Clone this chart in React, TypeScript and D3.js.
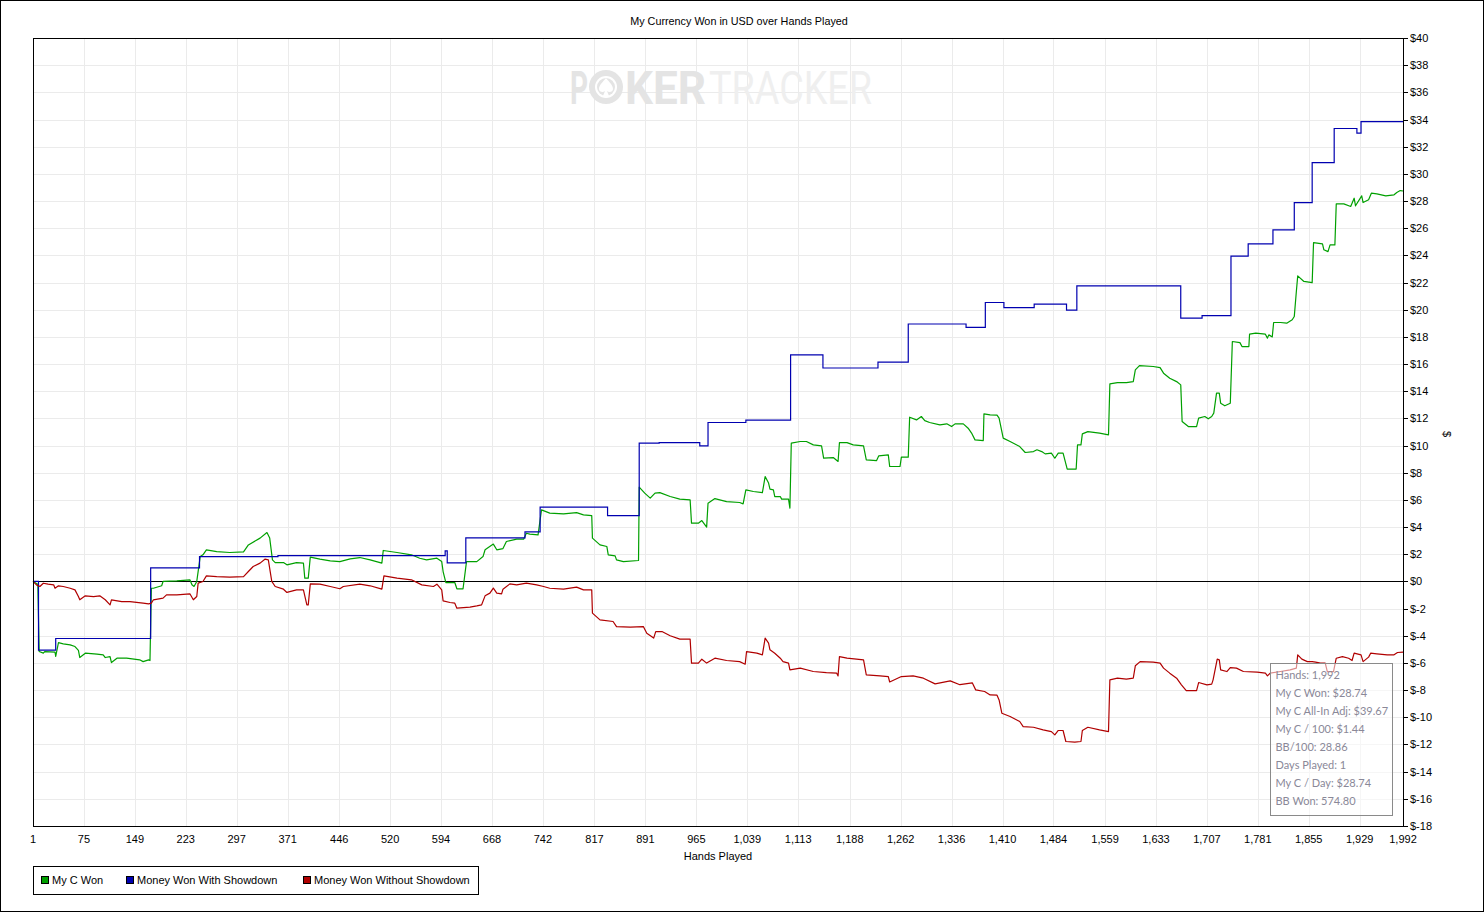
import React from "react";
import * as d3 from "d3";

const xTicks = [1, 75, 149, 223, 297, 371, 446, 520, 594, 668, 742, 817, 891, 965, 1039, 1113, 1188, 1262, 1336, 1410, 1484, 1559, 1633, 1707, 1781, 1855, 1929, 1992];
const yTicks = [-18, -16, -14, -12, -10, -8, -6, -4, -2, 0, 2, 4, 6, 8, 10, 12, 14, 16, 18, 20, 22, 24, 26, 28, 30, 32, 34, 36, 38, 40];

const seriesNames = ["My C Won", "Money Won With Showdown", "Money Won Without Showdown"];
const seriesColors = ["#00a000", "#0000b0", "#b00000"];

// [hand, dollars]
const myCWon: [number, number][] = [
  [1,0],[8,-0.2],[10,-5.16],[16,-5.28],[18,-5.16],[33,-5.2],[34,-5.52],[38,-4.5],[45,-4.59],[55,-4.67],[62,-4.79],[67,-5.08],[69,-5.6],[77,-5.28],[94,-5.35],[103,-5.4],[106,-5.6],[113,-5.53],[115,-5.97],[123,-5.65],[137,-5.65],[156,-5.77],[161,-5.9],[169,-5.77],[171,-5.82],[173,-0.5],[176,-0.5],[188,-0.32],[190,0],[210,0.04],[229,0.12],[232,-0.25],[235,-0.37],[239,0],[244,1.83],[248,1.96],[253,2.33],[268,2.2],[287,2.13],[307,2.18],[314,2.69],[331,3.19],[341,3.6],[345,3.19],[349,1.59],[353,1.39],[365,1.39],[370,1.22],[384,1.39],[394,1.35],[396,0.24],[401,0.24],[404,1.79],[418,1.64],[433,1.52],[447,1.46],[462,1.66],[476,1.76],[491,1.59],[508,1.35],[510,2.28],[530,2.13],[551,1.96],[563,1.71],[573,1.59],[588,1.71],[595,1.46],[597,0.73],[601,-0.08],[614,-0.08],[617,-0.54],[626,-0.54],[631,1.46],[646,1.46],[655,1.83],[658,2.33],[670,2.75],[675,2.33],[684,2.42],[689,2.94],[704,3.11],[714,3.11],[718,3.55],[723,3.48],[735,3.43],[740,5.27],[752,5.03],[772,4.98],[791,5.07],[801,4.9],[813,4.85],[814,3.19],[825,2.69],[835,2.57],[837,1.96],[847,1.88],[849,1.59],[859,1.46],[881,1.54],[882,6.94],[890,6.5],[898,6.13],[905,6.5],[912,6.54],[927,6.25],[941,6.06],[956,6.0],[958,4.29],[968,4.29],[973,4.48],[980,4.0],[982,5.76],[992,6.1],[1009,5.88],[1028,5.81],[1033,5.71],[1037,6.74],[1048,6.62],[1061,6.54],[1065,7.72],[1070,7.24],[1072,6.79],[1077,6.74],[1079,6.25],[1087,6.25],[1089,6.06],[1099,6.06],[1101,5.4],[1103,10.18],[1116,10.3],[1125,10.3],[1135,10.05],[1147,9.98],[1150,9.07],[1164,9.12],[1171,8.83],[1173,10.22],[1184,10.22],[1193,10.05],[1208,9.98],[1212,8.95],[1227,8.9],[1230,9.24],[1244,9.32],[1246,8.46],[1261,8.46],[1263,9.15],[1273,9.15],[1275,12.09],[1285,11.89],[1292,12.14],[1297,11.84],[1304,11.7],[1319,11.53],[1329,11.6],[1336,11.4],[1341,11.6],[1353,11.6],[1360,11.28],[1365,10.92],[1370,10.42],[1382,10.37],[1383,12.34],[1392,12.26],[1402,12.24],[1405,12.02],[1411,10.55],[1421,10.3],[1435,9.93],[1443,9.49],[1455,9.56],[1460,9.69],[1467,9.56],[1472,9.39],[1481,9.44],[1486,9.07],[1491,9.44],[1498,9.44],[1504,8.27],[1517,8.27],[1519,10.05],[1524,10.05],[1526,10.86],[1534,11.03],[1551,10.92],[1564,10.79],[1566,14.54],[1577,14.64],[1590,14.64],[1600,14.71],[1603,15.57],[1609,15.89],[1629,15.82],[1639,15.74],[1644,15.33],[1653,14.96],[1663,14.71],[1669,14.47],[1671,11.77],[1680,11.4],[1692,11.4],[1695,12.02],[1704,12.14],[1709,11.97],[1714,12.14],[1717,12.39],[1721,13.86],[1725,13.86],[1727,13.12],[1733,12.93],[1741,13.12],[1744,17.66],[1755,17.58],[1758,17.29],[1768,17.29],[1769,18.2],[1778,18.28],[1792,18.2],[1795,17.91],[1797,18.15],[1802,18.0],[1804,19.06],[1814,19.06],[1823,19.01],[1831,19.26],[1834,19.5],[1837,21.34],[1839,22.49],[1848,22.08],[1860,22.0],[1862,24.94],[1875,24.85],[1877,24.41],[1883,24.28],[1886,24.77],[1893,24.77],[1895,27.79],[1906,27.79],[1916,27.6],[1921,28.21],[1923,27.65],[1932,28.38],[1934,27.89],[1942,28.09],[1946,28.58],[1954,28.53],[1967,28.38],[1979,28.46],[1983,28.63],[1988,28.77],[1992,28.74]
];

// step changes [hand, dollars]
const wonWithShowdown: [number, number][] = [
  [1,0],[9,-5.05],[34,-4.2],[172,1.0],[243,1.83],[357,1.9],[600,2.25],[603,1.37],[630,3.2],[716,3.65],[738,5.47],[836,4.85],[882,10.18],[911,10.22],[970,9.98],[982,11.7],[1037,11.87],[1102,16.67],[1149,15.71],[1229,16.15],[1273,18.95],[1357,18.7],[1385,20.53],[1412,20.16],[1456,20.41],[1503,19.97],[1518,21.76],[1669,19.38],[1700,19.57],[1742,23.94],[1767,24.85],[1803,25.88],[1834,27.89],[1860,30.83],[1892,33.34],[1925,33.0],[1931,33.85],[1992,33.85]
];

const wonWithoutShowdown: [number, number][] = [
  [1,0],[6,-0.25],[11,-0.37],[16,-0.13],[23,-0.2],[31,-0.25],[33,-0.5],[38,-0.32],[45,-0.37],[55,-0.5],[62,-0.62],[67,-1.11],[69,-1.35],[77,-1.06],[89,-1.11],[98,-1.06],[106,-1.35],[113,-1.72],[115,-1.35],[130,-1.48],[142,-1.48],[161,-1.6],[169,-1.65],[173,-1.6],[176,-1.35],[190,-1.23],[195,-0.99],[210,-0.99],[229,-0.91],[234,-1.35],[239,-1.11],[241,-0.12],[248,0],[253,0.41],[268,0.36],[287,0.32],[307,0.36],[314,0.73],[321,1.1],[331,1.35],[338,1.64],[343,1.59],[348,0],[353,-0.37],[365,-0.57],[370,-0.81],[384,-0.62],[394,-0.62],[399,-1.72],[401,-1.72],[404,-0.18],[418,-0.2],[433,-0.37],[447,-0.54],[452,-0.37],[476,-0.2],[491,-0.32],[508,-0.57],[511,0.41],[530,0.24],[551,0.12],[566,-0.25],[583,-0.37],[588,-0.2],[595,-0.62],[597,-1.43],[607,-1.55],[614,-1.6],[617,-1.97],[636,-1.89],[646,-1.8],[653,-1.72],[658,-1.06],[665,-0.86],[670,-0.49],[675,-0.86],[682,-0.91],[684,-0.57],[694,-0.18],[704,-0.25],[718,-0.13],[733,-0.25],[743,-0.37],[752,-0.5],[772,-0.57],[791,-0.42],[801,-0.62],[813,-0.62],[814,-2.33],[825,-2.83],[844,-2.95],[849,-3.32],[869,-3.36],[888,-3.32],[893,-3.81],[903,-4.17],[906,-3.69],[915,-3.69],[927,-4.0],[941,-4.25],[956,-4.25],[958,-6.01],[968,-6.01],[973,-5.72],[980,-6.01],[992,-5.65],[1009,-5.82],[1028,-5.9],[1036,-6.09],[1038,-5.16],[1053,-5.28],[1061,-5.4],[1065,-4.17],[1070,-4.54],[1072,-5.03],[1079,-5.28],[1087,-5.65],[1091,-5.9],[1099,-6.01],[1101,-6.51],[1116,-6.38],[1135,-6.63],[1154,-6.71],[1169,-6.75],[1171,-6.95],[1173,-5.53],[1184,-5.65],[1208,-5.77],[1212,-6.87],[1232,-6.95],[1244,-7.0],[1246,-7.4],[1263,-7.0],[1280,-6.95],[1295,-7.12],[1312,-7.54],[1334,-7.32],[1348,-7.6],[1366,-7.46],[1371,-7.98],[1384,-8.1],[1392,-8.35],[1402,-8.37],[1405,-8.72],[1409,-9.7],[1421,-9.94],[1435,-10.31],[1440,-10.68],[1455,-10.73],[1469,-10.92],[1481,-11.05],[1486,-11.29],[1491,-10.97],[1498,-10.97],[1502,-11.78],[1515,-11.83],[1524,-11.78],[1526,-10.97],[1534,-10.73],[1551,-10.92],[1564,-11.05],[1566,-7.24],[1577,-7.12],[1590,-7.19],[1600,-7.12],[1603,-6.21],[1610,-5.9],[1629,-5.94],[1639,-6.01],[1644,-6.38],[1653,-6.75],[1663,-7.12],[1670,-7.61],[1677,-8.03],[1692,-8.03],[1695,-7.44],[1707,-7.61],[1714,-7.56],[1716,-7.24],[1722,-5.72],[1725,-5.77],[1727,-6.51],[1736,-6.63],[1741,-6.34],[1750,-6.38],[1760,-6.63],[1780,-6.68],[1792,-6.75],[1795,-6.95],[1799,-6.75],[1814,-6.63],[1828,-6.51],[1837,-6.38],[1839,-5.4],[1845,-5.72],[1853,-5.9],[1860,-5.9],[1865,-5.94],[1872,-6.01],[1879,-6.01],[1882,-6.63],[1891,-6.63],[1895,-5.65],[1904,-5.53],[1913,-5.65],[1918,-5.82],[1921,-5.28],[1931,-5.4],[1934,-5.9],[1942,-5.57],[1945,-5.28],[1954,-5.33],[1969,-5.4],[1979,-5.4],[1984,-5.23],[1992,-5.2]
];

const statsLines = [
  "Hands: 1,992",
  "My C Won: $28.74",
  "My C All-In Adj: $39.67",
  "My C / 100: $1.44",
  "BB/100: 28.86",
  "Days Played: 1",
  "My C / Day: $28.74",
  "BB Won: 574.80",
];

const chartTitle = "My Currency Won in USD over Hands Played";

const W = 1484;
const H = 912;
const L = 33, T = 38, R = 1403, B = 826;
const FONT = "'Liberation Sans', Arial, sans-serif";

export default function App() {
  const x = d3.scaleLinear().domain([1, 1992]).range([L, R]);
  const y = d3.scaleLinear().domain([-18, 40]).range([B, T]);
  const line = d3.line<[number, number]>().x((d) => x(d[0])).y((d) => y(d[1]));
  const stepLine = d3
    .line<[number, number]>()
    .x((d) => x(d[0]))
    .y((d) => y(d[1]))
    .curve(d3.curveStepAfter);
  const fmtX = d3.format(",");
  const fmtY = (v: number) => (v < 0 ? "$-" + Math.abs(v) : "$" + v);
  const px = (v: number) => Math.round(v) + 0.5;

  const legendItems = [
    { sx: 41, tx: 52 },
    { sx: 126, tx: 137 },
    { sx: 303, tx: 314 },
  ];

  return (
    <svg
      width={W}
      height={H}
      style={{ position: "absolute", left: 0, top: 0, display: "block", background: "#fff" }}
      fontFamily={FONT}
    >
      <rect x={0.5} y={0.5} width={W - 1} height={H - 1} fill="#fff" stroke="#000" />
      <text x={739} y={25} fontSize={10.8} textAnchor="middle" fill="#000">
        {chartTitle}
      </text>

      {/* grid */}
      <g stroke="#ebebeb" strokeWidth={1}>
        {xTicks.slice(1, -1).map((t) => (
          <line key={"gx" + t} x1={px(x(t))} x2={px(x(t))} y1={T} y2={B} />
        ))}
        {yTicks.slice(1, -1).map((t) => (
          <line key={"gy" + t} x1={L} x2={R} y1={px(y(t))} y2={px(y(t))} />
        ))}
      </g>

      {/* watermark */}
      <g>
        <text x={570} y={104} fontSize={46} fontWeight="bold" fill="#e4e4e4" fontFamily="Roboto, sans-serif" textLength={18} lengthAdjust="spacingAndGlyphs">
          P
        </text>
        <circle cx={606} cy={87} r={17} fill="#e4e4e4" />
        <circle cx={606} cy={87} r={11} fill="#fff" />
        <circle cx={606} cy={87} r={9} fill="#e4e4e4" />
        <path d="M606,78 C603,82 599,85 599,89 C599,92 603,93 605,91 L603,96 L609,96 L607,91 C609,93 613,92 613,89 C613,85 609,82 606,78 Z" fill="#fff" />
        <text x={625} y={104} fontSize={46} fontWeight="bold" fill="#e4e4e4" fontFamily="Roboto, sans-serif" textLength={81} lengthAdjust="spacingAndGlyphs">
          KER
        </text>
        <text x={709} y={104} fontSize={46} fill="#efefef" fontFamily="Roboto, sans-serif" textLength={163} lengthAdjust="spacingAndGlyphs">
          TRACKER
        </text>
      </g>

      {/* zero line */}
      <line x1={L} x2={R} y1={px(y(0))} y2={px(y(0))} stroke="#000" strokeWidth={1} />

      {/* series */}
      <path d={line(myCWon) || ""} fill="none" stroke={seriesColors[0]} strokeWidth={1.2} strokeLinejoin="round" />
      <path d={stepLine(wonWithShowdown) || ""} fill="none" stroke={seriesColors[1]} strokeWidth={1.2} />
      <path d={line(wonWithoutShowdown) || ""} fill="none" stroke={seriesColors[2]} strokeWidth={1.2} strokeLinejoin="round" />

      {/* plot frame */}
      <rect x={L + 0.5} y={T + 0.5} width={R - L} height={B - T} fill="none" stroke="#000" strokeWidth={1} />

      {/* y axis right */}
      <g fontSize={11} fill="#000">
        {yTicks.map((t) => (
          <g key={"yt" + t}>
            <line x1={R} x2={R + 5} y1={px(y(t))} y2={px(y(t))} stroke="#000" />
            <text x={R + 7} y={y(t) + 4}>
              {fmtY(t)}
            </text>
          </g>
        ))}
      </g>
      <text x={0} y={0} fontSize={11} transform={`translate(1443,434) rotate(90)`} textAnchor="middle">
        $
      </text>

      {/* x axis */}
      <g fontSize={11} fill="#000" textAnchor="middle">
        {xTicks.map((t) => (
          <text key={"xt" + t} x={x(t)} y={843}>
            {fmtX(t)}
          </text>
        ))}
      </g>
      <text x={718} y={860} fontSize={11} textAnchor="middle">
        Hands Played
      </text>

      {/* stats box */}
      <rect x={1270.5} y={663.5} width={122} height={152} fill="#fff" fillOpacity={0.55} stroke="#8a8a8a" />
      <g fontSize={11} fill="#8a8898" fontFamily="Lato, 'Noto Sans', sans-serif">
        {statsLines.map((s, i) => (
          <text key={s} x={1275.5} y={679 + i * 18}>
            {s}
          </text>
        ))}
      </g>

      {/* legend */}
      <rect x={33.5} y={866.5} width={445} height={28} fill="#fff" stroke="#000" />
      <g fontSize={11}>
        {seriesNames.map((n, i) => (
          <g key={n}>
            <rect x={legendItems[i].sx + 0.5} y={876.5} width={7} height={7} fill={seriesColors[i]} stroke="#000" />
            <text x={legendItems[i].tx} y={884}>
              {n}
            </text>
          </g>
        ))}
      </g>
    </svg>
  );
}
